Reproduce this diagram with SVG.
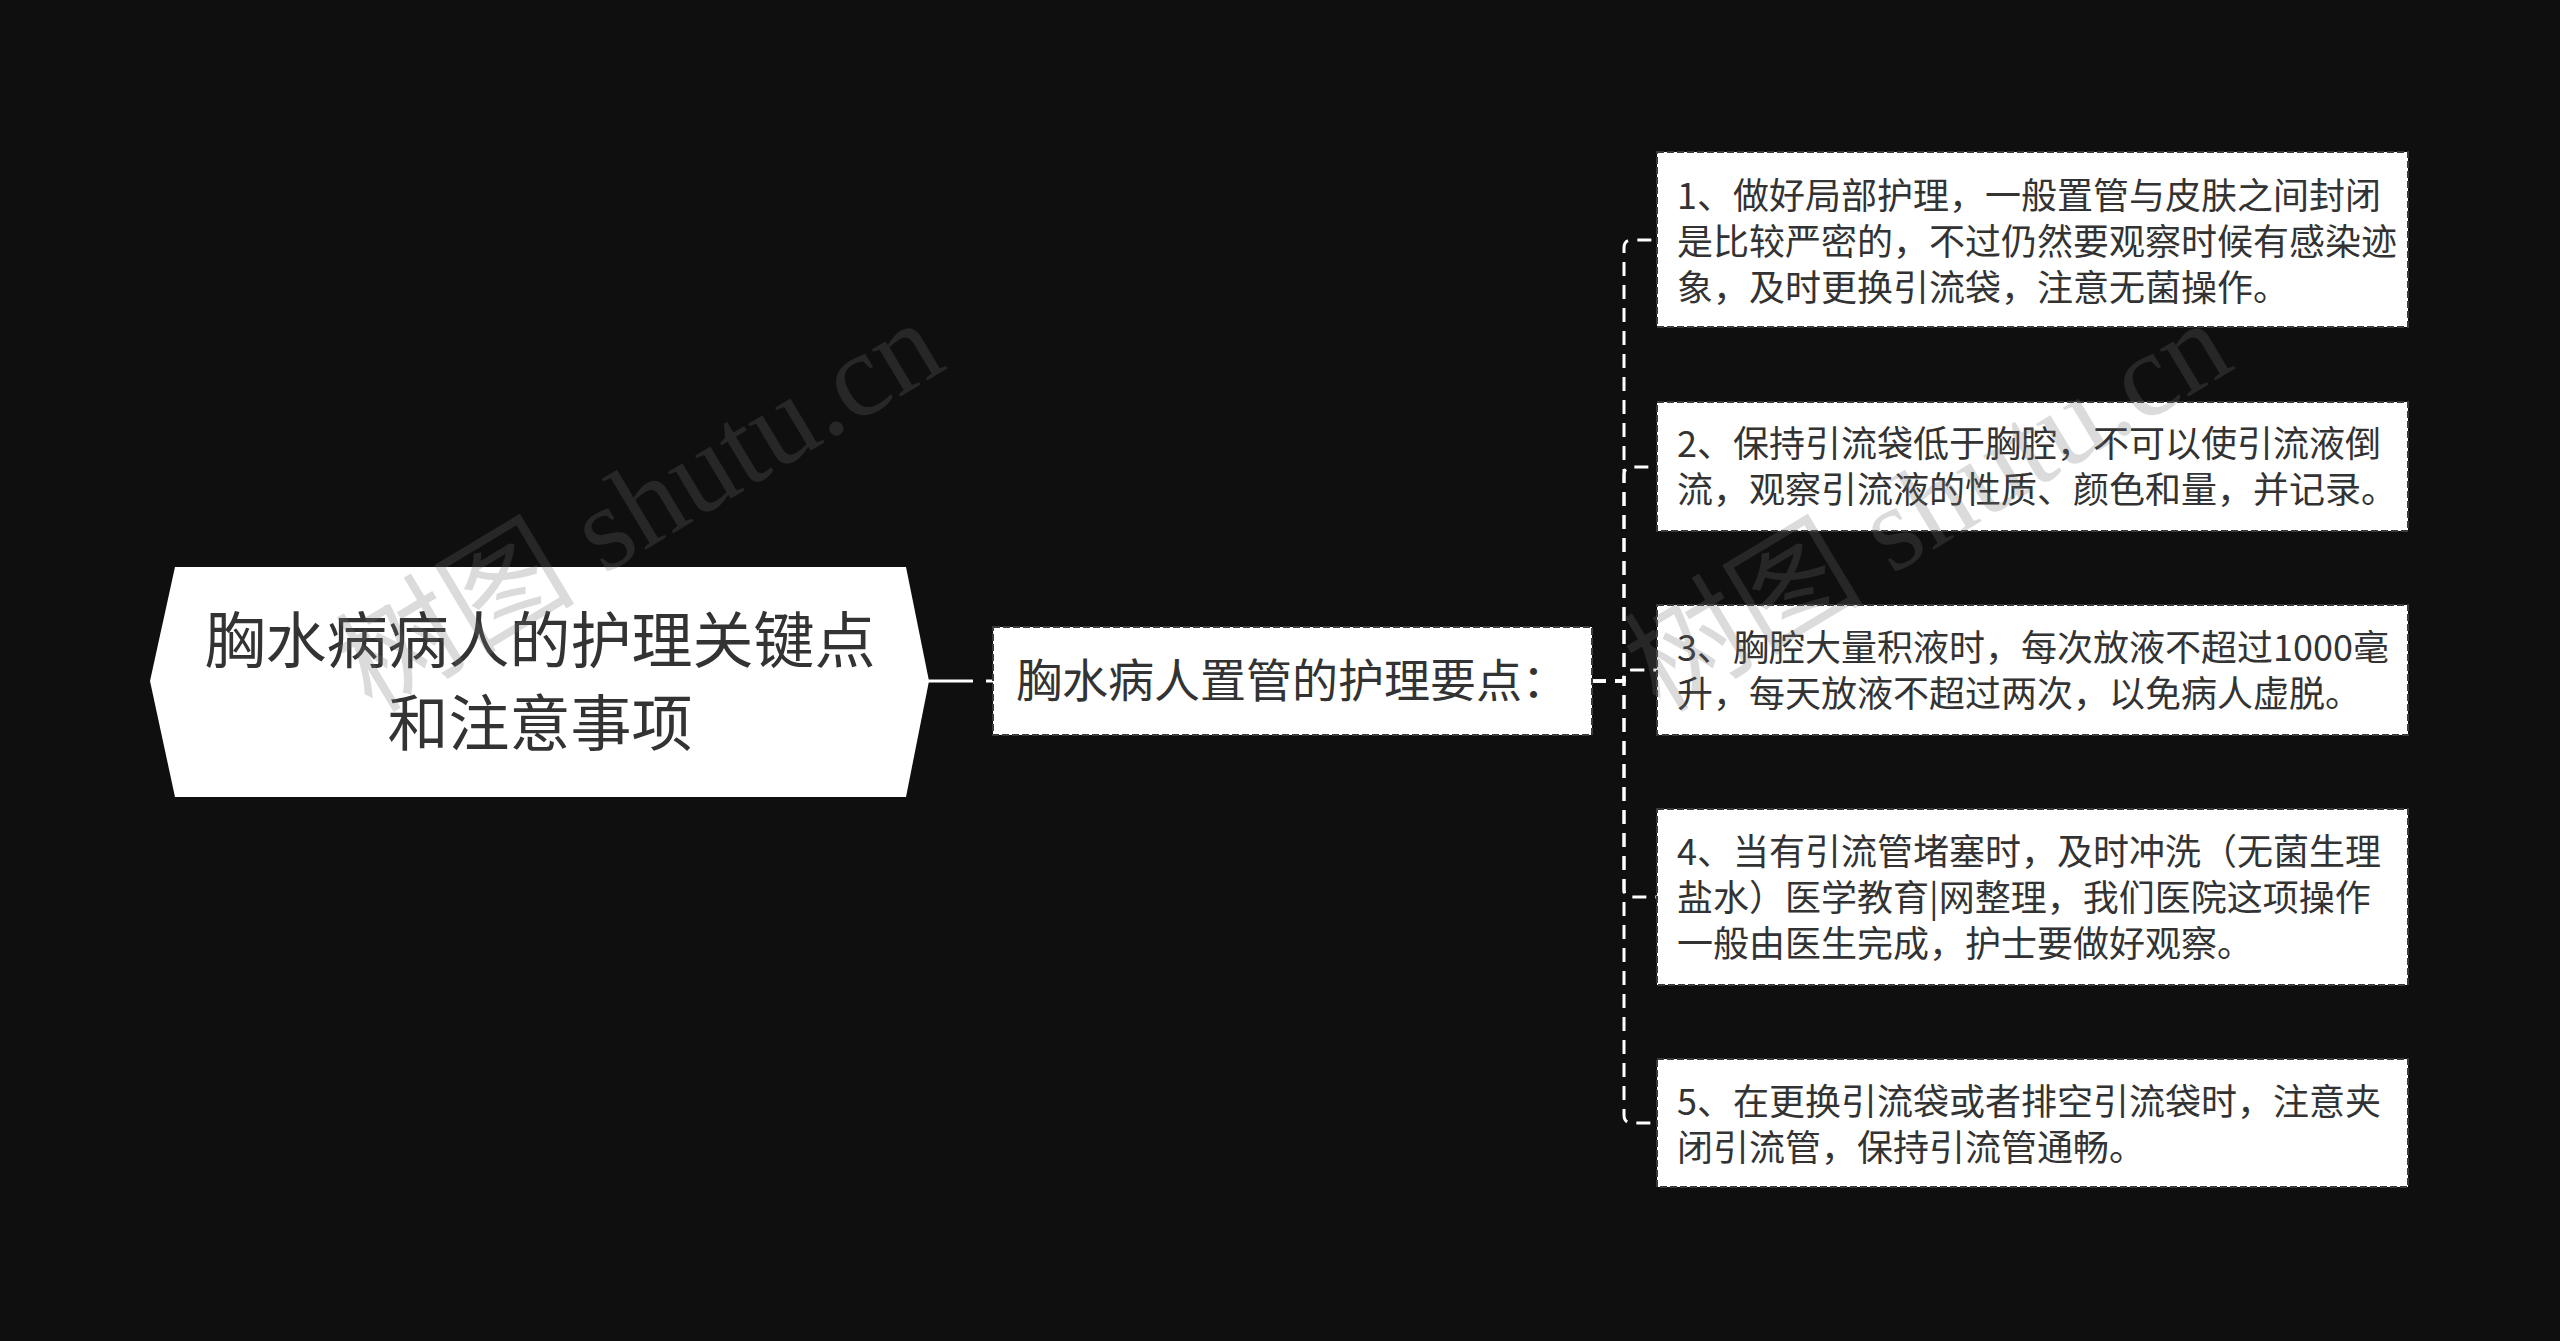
<svg xmlns="http://www.w3.org/2000/svg" width="2560" height="1341" viewBox="0 0 2560 1341">
<style>
.bg{fill:#0f0f0f}
.root{fill:#ffffff}
.box{fill:#ffffff;stroke:#3a3a3a;stroke-width:2;stroke-dasharray:7 3}
.t{font-family:"Noto Sans CJK SC","Noto Sans",sans-serif;fill:#333333}
.rt{font-size:61px;text-anchor:middle}
.mt{font-size:46px}
.lt{font-size:36px}
.conn{fill:none;stroke:#ffffff;stroke-width:3}
.dash{stroke-dasharray:14 9}
.wm{font-family:"Liberation Serif","Noto Sans CJK SC",serif;font-size:120px;fill:#6f6f6f;fill-opacity:0.25}
</style>
<rect class="bg" x="0" y="0" width="2560" height="1341"/>
<g id="connectors">
<path class="conn" d="M927 681 H993" stroke-dasharray="46 13"/>
<path class="conn dash" d="M1592 681 H1624 V248 Q1624 240 1632 240 H1657"/>
<path class="conn dash" d="M1592 681 H1624 V475 Q1624 467 1632 467 H1657"/>
<path class="conn dash" d="M1592 681 H1624 V678 Q1624 670 1632 670 H1657"/>
<path class="conn dash" d="M1592 681 H1624 V889 Q1624 897 1632 897 H1657"/>
<path class="conn dash" d="M1592 681 H1624 V1115 Q1624 1123 1632 1123 H1657"/>
</g>
<g id="node-root">
<polygon class="root" points="150,681 175,567 906,567 929,681 906,797 175,797"/>
<text class="t rt" x="540" y="663">胸水病病人的护理关键点</text>
<text class="t rt" x="540" y="746">和注意事项</text>
</g>
<g id="node-main">
<rect class="box" x="993" y="627" width="599" height="108"/>
<text class="t mt" x="1016" y="697">胸水病人置管的护理要点：</text>
</g>
<g id="node-1">
<rect class="box" x="1657" y="152" width="751" height="175"/>
<text class="t lt" x="1677" y="209">1、做好局部护理，一般置管与皮肤之间封闭</text>
<text class="t lt" x="1677" y="255">是比较严密的，不过仍然要观察时候有感染迹</text>
<text class="t lt" x="1677" y="301">象，及时更换引流袋，注意无菌操作。</text>
</g>
<g id="node-2">
<rect class="box" x="1657" y="402" width="751" height="129"/>
<text class="t lt" x="1677" y="457">2、保持引流袋低于胸腔，不可以使引流液倒</text>
<text class="t lt" x="1677" y="503">流，观察引流液的性质、颜色和量，并记录。</text>
</g>
<g id="node-3">
<rect class="box" x="1657" y="605" width="751" height="130"/>
<text class="t lt" x="1677" y="661">3、胸腔大量积液时，每次放液不超过1000毫</text>
<text class="t lt" x="1677" y="707">升，每天放液不超过两次，以免病人虚脱。</text>
</g>
<g id="node-4">
<rect class="box" x="1657" y="809" width="751" height="176"/>
<text class="t lt" x="1677" y="865">4、当有引流管堵塞时，及时冲洗（无菌生理</text>
<text class="t lt" x="1677" y="911">盐水）医学教育|网整理，我们医院这项操作</text>
<text class="t lt" x="1677" y="957">一般由医生完成，护士要做好观察。</text>
</g>
<g id="node-5">
<rect class="box" x="1657" y="1059" width="751" height="128"/>
<text class="t lt" x="1677" y="1115">5、在更换引流袋或者排空引流袋时，注意夹</text>
<text class="t lt" x="1677" y="1161">闭引流管，保持引流管通畅。</text>
</g>
<g id="watermarks">
<text class="wm" transform="translate(372,714) rotate(-31)">树图 shutu.cn</text>
<text class="wm" transform="translate(1660,714) rotate(-31)">树图 shutu.cn</text>
</g>
</svg>
